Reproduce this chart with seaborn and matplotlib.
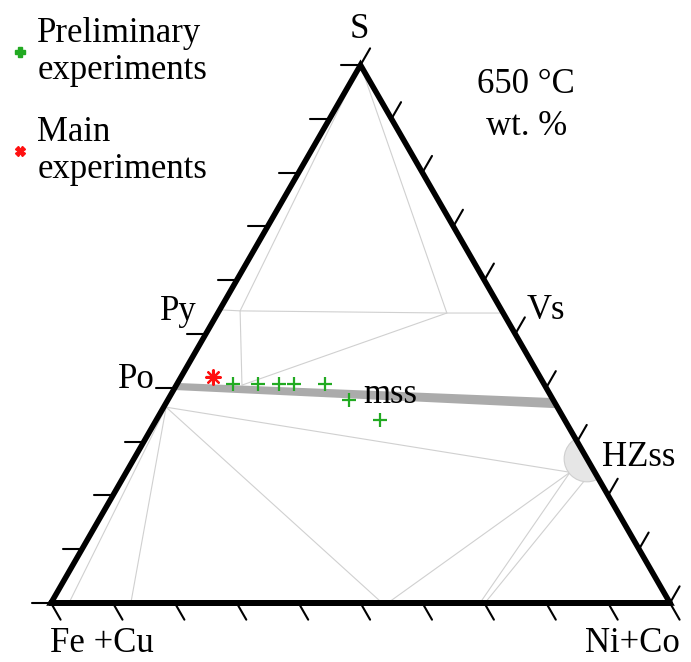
import numpy as np
import matplotlib
matplotlib.use("Agg")
import matplotlib.pyplot as plt
import seaborn as sns
import pandas as pd
from matplotlib.patches import Polygon, Circle
from matplotlib.lines import Line2D

# compositions in wt.%: S and Ni+Co (Fe+Cu = 100 - S - Ni)
prelim_s = [42.0, 40.7, 40.7, 40.7, 40.7, 40.7, 37.7, 34.0]
prelim_ni = [5.2, 9.1, 13.1, 16.5, 18.9, 23.9, 29.3, 36.2]
main_s = [42.0]
main_ni = [5.2]

# mss band outline
mss_s = [40.9, 38.1, 36.2, 39.6]
mss_ni = [0.0, 61.9, 63.8, 0.0]

# heazlewoodite ss centre and radius (wt.%)
hz_s, hz_ni, hz_r = 26.8, 73.2, 3.7

# tie lines / phase boundaries as (S, Ni) polylines
tie_lines = [
    [(100, 0), (54.3, 3.4)],
    [(100, 0), (53.9, 37.0)],
    [(54.5, 0), (54.3, 3.4), (53.9, 37.0), (53.9, 46.1)],
    [(54.3, 3.4), (40.5, 10.6), (53.9, 37.0)],
    [(0, 2.9), (36.4, 0.4), (0, 12.9)],
    [(36.4, 0.4), (0, 53.5)],
    [(36.4, 0.4), (24.3, 71.7)],
    [(24.3, 71.7), (0, 54.4)],
    [(24.3, 71.7), (0, 69.3)],
    [(22.7, 74.8), (0, 70.1)],
]

tick_vals = np.arange(0, 101, 10)
legend_labels = ["Preliminary\nexperiments", "Main\nexperiments"]
green = "#22aa22"
red = "#ff1010"
H = np.sqrt(3) / 2


def tern(s, ni):
    s = np.asarray(s, float) / 100
    ni = np.asarray(ni, float) / 100
    return ni + s / 2, s * H


sns.set_theme(style="white")
plt.rcParams["font.family"] = ["Liberation Serif", "DejaVu Serif"]
plt.rcParams["text.color"] = "black"
FS = 25

fig = plt.figure(figsize=(6.91, 6.62), dpi=100)
ax = fig.add_axes([0, 0, 1, 1])
ax.set_xlim(-51 / 619, 640 / 619)
ax.set_ylim(-59 / 621.2, 603 / 621.2)
ax.axis("off")

# mss field
bx, by = tern(mss_s, mss_ni)
ax.add_patch(Polygon(np.column_stack([bx, by]), closed=True,
                     facecolor="#ababab", edgecolor="none", zorder=2))

# HZss field, clipped to triangle
tri = Polygon([[0, 0], [1, 0], [0.5, H]], closed=True, facecolor="none",
              edgecolor="none")
ax.add_patch(tri)
cx, cy = tern(hz_s, hz_ni)
circ = Circle((cx, cy), hz_r / 100, facecolor="#e6e6e6", edgecolor="#cfcfcf",
              linewidth=0.8, zorder=2)
ax.add_patch(circ)
circ.set_clip_path(tri)

# tie lines
for seg in tie_lines:
    s, ni = zip(*seg)
    x, y = tern(s, ni)
    ax.plot(x, y, color="#d0d0d0", linewidth=0.8, zorder=1)

# ticks
L = 0.031
for t in tick_vals:
    f = t / 100
    # left edge: horizontal ticks pointing left
    ax.plot([f / 2, f / 2 - L], [f * H, f * H], color="black", lw=1.5, zorder=3)
    # right edge: ticks pointing up-right
    x0, y0 = 1 - f / 2, f * H
    ax.plot([x0, x0 + L * 0.5], [y0, y0 + L * H], color="black", lw=1.5, zorder=3)
    # bottom edge: ticks pointing down-right
    ax.plot([f, f + L * 0.5], [0, -L * H], color="black", lw=1.5, zorder=3)

# triangle frame
ax.plot([0, 1, 0.5, 0, 1], [0, 0, H, 0, 0], color="black", linewidth=4.0,
        solid_joinstyle="miter", zorder=4)

# data points
px_, py_ = tern(prelim_s, prelim_ni)
mx_, my_ = tern(main_s, main_ni)
df_p = pd.DataFrame({"x": px_, "y": py_})
df_m = pd.DataFrame({"x": mx_, "y": my_})
sns.scatterplot(data=df_p, x="x", y="y", marker="+", s=110, color=green,
                linewidth=1.6, ax=ax, zorder=6, legend=False)
sns.scatterplot(data=df_m, x="x", y="y", marker=(8, 2, 0), s=110, color=red,
                linewidth=1.6, ax=ax, zorder=7, legend=False)
ax.set_xlabel("")
ax.set_ylabel("")


def fpos(px, py):
    return px / 691, 1 - py / 662


def label(px, py, txt, ha="left"):
    fig.text(*fpos(px, py), txt, fontsize=FS, ha=ha, va="baseline",
             color="black")


label(359, 38, "S", ha="center")
label(526, 93, "650 °C", ha="center")
label(527, 135, "wt. %", ha="center")
label(160, 320, "Py")
label(118, 388, "Po")
label(527, 319, "Vs")
label(602, 466, "HZss")
label(363, 403, "mss")
label(50, 652, "Fe +Cu")
label(585, 652, "Ni+Co")

handles = [
    Line2D([], [], marker="P", color=green, linestyle="none", markersize=7),
    Line2D([], [], marker="X", color=red, linestyle="none", markersize=7),
]
leg = fig.legend(handles, legend_labels, loc="upper left",
                 bbox_to_anchor=fpos(13, 17), frameon=False,
                 prop={"size": FS}, handlelength=0.4, handletextpad=0.3,
                 labelspacing=0.84, borderpad=0, borderaxespad=0)
for t in leg.get_texts():
    t.set_linespacing(1.15)
    t.set_color("black")

fig.savefig("out.png", dpi=100)
